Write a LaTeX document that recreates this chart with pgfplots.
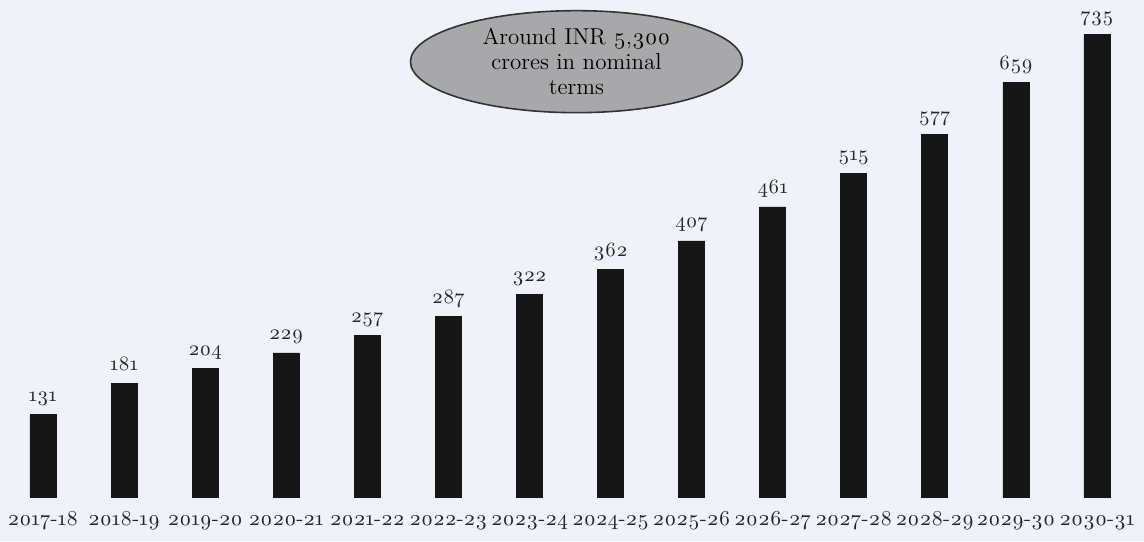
\documentclass[border=0pt]{standalone}
\usepackage{fontspec}
\setmainfont{Latin Modern Roman}[Numbers=OldStyle]
\usepackage{pgfplots}
\pgfplotsset{compat=1.18}
\usetikzlibrary{shapes.geometric}
\definecolor{bg}{RGB}{240,242,249}
\definecolor{barc}{RGB}{22,22,22}
\definecolor{ellc}{RGB}{168,168,170}
\begin{document}
\begin{tikzpicture}
\path[use as bounding box, fill=bg] (0,-22pt) rectangle (572pt,248.5pt);
\begin{axis}[
  at={(0,0)}, anchor=south west,
  scale only axis, width=572pt, height=248.5pt,
  xmin=-0.53, xmax=13.58, ymin=0, ymax=790,
  axis line style={draw=none},
  major tick length=0pt,
  ymajorticks=false,
  xtick={0,...,13},
  xticklabels={2017-18,2018-19,2019-20,2020-21,2021-22,2022-23,2023-24,2024-25,2025-26,2026-27,2027-28,2028-29,2029-30,2030-31},
  xticklabel style={font=\fontsize{10.6}{13}\selectfont, text=black!85, anchor=base, yshift=-14pt, inner sep=0pt},
  /pgf/number format/assume math mode=true,
  /pgf/number format/1000 sep={},
  nodes near coords,
  nodes near coords style={font=\fontsize{10.2}{12}\selectfont, text=black!85, anchor=base, inner sep=0pt, yshift=6.5pt},
  clip=false,
]
\addplot[ybar, bar width=13pt, fill=barc, draw=barc] coordinates {
(0,131) (1,181) (2,204) (3,229) (4,257) (5,287) (6,322) (7,362) (8,407) (9,461) (10,515) (11,577) (12,659) (13,735)
};
\node[ellipse, draw=black!80, line width=0.8pt, fill=ellc, minimum width=166pt, minimum height=51pt, inner sep=0pt, align=center, font=\fontsize{11.5}{12.5}\selectfont]
  at (axis cs:6.58,692) {Around INR 5,300\\crores in nominal\\terms};
\end{axis}
\end{tikzpicture}
\end{document}
